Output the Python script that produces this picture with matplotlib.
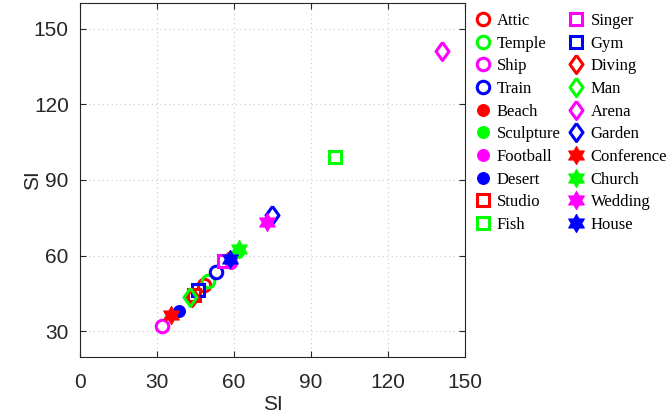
import numpy as np
import matplotlib
matplotlib.use("Agg")
import matplotlib.pyplot as plt

# categories and their SI values (x, y)
names = ["Attic", "Temple", "Ship", "Train",
         "Beach", "Sculpture", "Football", "Desert",
         "Studio", "Fish", "Singer", "Gym",
         "Diving", "Man", "Arena", "Garden",
         "Conference", "Church", "Wedding", "House"]
si_x = [48.5, 50.0, 32.0, 53.0,
        59.0, 61.5, 59.0, 38.5,
        44.5, 99.5, 56.0, 46.0,
        43.5, 43.0, 141.0, 75.0,
        35.5, 62.0, 73.0, 58.5]
si_y = [48.5, 50.0, 32.0, 53.5,
        59.5, 61.5, 57.0, 38.0,
        44.5, 99.0, 58.0, 46.5,
        43.5, 43.5, 141.0, 76.0,
        36.5, 62.5, 73.5, 58.5]

colors = ["#ff0000", "#00ff00", "#ff00ff", "#0000ff"]

# MATLAB-like diamond and hexagram marker shapes
diamond = [(0, 1), (0.72, 0), (0, -1), (-0.72, 0), (0, 1)]
ang = np.pi / 2 + np.arange(12) * np.pi / 6
rad = np.where(np.arange(12) % 2 == 0, 1.0, 1 / np.sqrt(3))
hexagram = list(zip(rad * np.cos(ang), rad * np.sin(ang)))
hexagram.append(hexagram[0])

styles = [("o", False, 9), ("o", True, 8.5), ("s", False, 8),
          (diamond, False, 13), (hexagram, True, 13)]

fig = plt.figure(figsize=(6.72, 4.2), dpi=100)
ax = fig.add_axes([0.119, 0.151, 0.573, 0.841])

for i, name in enumerate(names):
    mk, filled, ms = styles[i // 4]
    c = colors[i % 4]
    ax.plot(si_x[i], si_y[i], linestyle="none", marker=mk, markersize=ms,
            markeredgecolor=c, markerfacecolor=c if filled else "none",
            markeredgewidth=0.8 if filled else 2.2, label=name)

ax.set_xlim(0, 150)
ax.set_ylim(20, 160)
ax.set_xticks([0, 30, 60, 90, 120, 150])
ax.set_yticks([30, 60, 90, 120, 150])
ax.grid(True, linestyle=(0, (1, 3)), color="#c8c8c8", linewidth=0.8)
ax.tick_params(direction="in", top=True, right=True, labelsize=15,
               colors="#262626", length=4)
ax.tick_params(axis="x", pad=12)
ax.tick_params(axis="y", pad=8)
for s in ax.spines.values():
    s.set_color("#262626")
    s.set_linewidth(0.8)
ax.set_xlabel("SI", fontsize=15, color="#262626", labelpad=2)
ax.set_ylabel("SI", fontsize=15, color="#262626", labelpad=-6)
for t in ax.get_xticklabels() + ax.get_yticklabels():
    t.set_family("Liberation Sans")
ax.xaxis.label.set_family("Liberation Sans")
ax.yaxis.label.set_family("Liberation Sans")

h, l = ax.get_legend_handles_labels()
fig.legend(h, l, ncol=2, loc="upper left", bbox_to_anchor=(0.697, 0.985),
           frameon=False, prop={"family": "Liberation Serif", "size": 12},
           handlelength=0.9, handletextpad=0.4, labelspacing=0.4,
           columnspacing=0.5, borderaxespad=0)

fig.savefig("out.png", dpi=100)
